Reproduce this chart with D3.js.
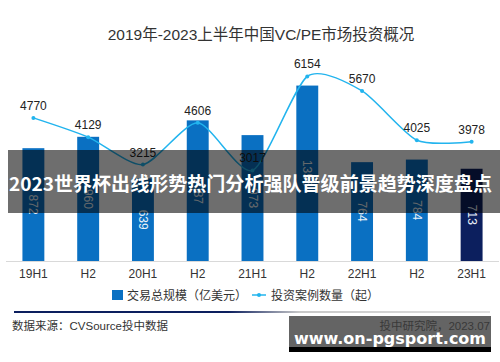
<!DOCTYPE html>
<html>
<head>
<meta charset="utf-8">
<script src="https://cdn.jsdelivr.net/npm/d3@7"></script>
<style>
  body { margin: 0; background: #fff; }
  svg { display: block; font-family: "Liberation Sans", "Noto Sans CJK SC", sans-serif; }
</style>
</head>
<body>
<div id="chart"></div>
<script>
// chart data
var categories = ["19H1", "H2", "20H1", "H2", "21H1", "H2", "22H1", "H2", "23H1"];
var dealValue = [872, 960, 639, 1087, 973, 1356, 764, 784, 713];      // 交易总规模（亿美元）
var dealCount = [4770, 4129, 3215, 4606, 3017, 6154, 5670, 4025, 3978]; // 投资案例数量（起）
var legendNames = ["交易总规模（亿美元）", "投资案例数量（起）"];

var width = 500, height = 362;
var svg = d3.select("#chart").append("svg")
    .attr("width", width)
    .attr("height", height);

var x = d3.scaleBand().domain(d3.range(categories.length)).range([6, 499]).paddingInner(0.6).paddingOuter(0.3);
var yBar = d3.scaleLinear().domain([0, 1600]).range([261, 54]);
var yLine = d3.scaleLinear().domain([0, 6900]).range([261, 54]);
var cx = function(i) { return x(i) + x.bandwidth() / 2; };

// title
svg.append("text")
    .attr("x", 261).attr("y", 40)
    .attr("text-anchor", "middle")
    .style("font-size", "15.5px")
    .style("fill", "#333")
    .text("2019年-2023上半年中国VC/PE市场投资概况");

// bars
svg.selectAll("rect.bar")
    .data(dealValue)
    .enter()
    .append("rect")
    .attr("class", "bar")
    .attr("x", function(d, i) { return x(i); })
    .attr("y", function(d) { return yBar(d); })
    .attr("width", x.bandwidth())
    .attr("height", function(d) { return yBar(0) - yBar(d); })
    .style("fill", function(d, i) { return i == dealValue.length - 1 ? "#0c1f5e" : "#0a70c2"; });

// bar labels, rotated
svg.selectAll("text.barlabel")
    .data(dealValue)
    .enter()
    .append("text")
    .attr("class", "barlabel")
    .attr("transform", function(d, i) {
        return "translate(" + (cx(i) - 4) + "," + ((yBar(d) + yBar(0)) / 2) + ") rotate(90)";
    })
    .attr("text-anchor", "middle")
    .style("font-size", "12px")
    .style("fill", "#e8f0f8")
    .text(function(d) { return d; });

// x axis
svg.append("line")
    .attr("x1", 6).attr("x2", 499)
    .attr("y1", 261.5).attr("y2", 261.5)
    .style("stroke", "#d9d9d9");

svg.selectAll("text.xlabel")
    .data(categories)
    .enter()
    .append("text")
    .attr("class", "xlabel")
    .attr("x", function(d, i) { return cx(i); })
    .attr("y", 278)
    .attr("text-anchor", "middle")
    .style("font-size", "12px")
    .style("fill", "#333")
    .text(function(d) { return d; });

// line
var line = d3.line()
    .x(function(d, i) { return cx(i); })
    .y(function(d) { return yLine(d); })
    .curve(d3.curveCardinal.tension(0.3));

svg.append("path")
    .datum(dealCount)
    .attr("d", line)
    .style("fill", "none")
    .style("stroke", "#22b4ee")
    .style("stroke-width", 1.5);

svg.selectAll("circle.pt")
    .data(dealCount)
    .enter()
    .append("circle")
    .attr("class", "pt")
    .attr("cx", function(d, i) { return cx(i); })
    .attr("cy", function(d) { return yLine(d); })
    .attr("r", 2)
    .style("fill", "#22b4ee");

svg.selectAll("text.ptlabel")
    .data(dealCount)
    .enter()
    .append("text")
    .attr("class", "ptlabel")
    .attr("x", function(d, i) { return cx(i); })
    .attr("y", function(d) { return yLine(d) - 8; })
    .attr("text-anchor", "middle")
    .style("font-size", "12px")
    .style("fill", "#222")
    .text(function(d) { return d; });

// legend
var lg = svg.append("g").attr("transform", "translate(0,295)");
lg.append("rect").attr("x", 112).attr("y", -5).attr("width", 11).attr("height", 10).style("fill", "#0a70c2");
lg.append("text").attr("x", 127).attr("y", 4.5).style("font-size", "12px").style("fill", "#333").text(legendNames[0]);
lg.append("line").attr("x1", 252).attr("x2", 266).attr("y1", 0).attr("y2", 0).style("stroke", "#22b4ee").style("stroke-width", 1.5);
lg.append("circle").attr("cx", 259).attr("cy", 0).attr("r", 2).style("fill", "#22b4ee");
lg.append("text").attr("x", 271).attr("y", 4.5).style("font-size", "12px").style("fill", "#333").text(legendNames[1]);

// footer rule
var grad = svg.append("defs").append("linearGradient").attr("id", "rule");
grad.append("stop").attr("offset", "0%").attr("stop-color", "#0c1f5e");
grad.append("stop").attr("offset", "45%").attr("stop-color", "#0c1f5e");
grad.append("stop").attr("offset", "60%").attr("stop-color", "#c8c8c8");
grad.append("stop").attr("offset", "100%").attr("stop-color", "#e0e0e0");
svg.append("rect").attr("x", 14).attr("y", 311).attr("width", 476).attr("height", 2).style("fill", "url(#rule)");

svg.append("text").attr("x", 12).attr("y", 330).style("font-size", "11.5px").style("fill", "#333").text("数据来源：CVSource投中数据");
svg.append("text").attr("x", 490).attr("y", 330).attr("text-anchor", "end").style("font-size", "11.5px").style("fill", "#666").text("投中研究院，2023.07");

// overlay banner
svg.append("rect").attr("x", 8).attr("y", 150).attr("width", 492).attr("height", 63).style("fill", "rgba(0,0,0,0.57)");
svg.append("text")
    .attr("x", 9).attr("y", 191)
    .attr("textLength", 483)
    .attr("lengthAdjust", "spacingAndGlyphs")
    .style("font-family", "'Noto Sans CJK SC', sans-serif")
    .style("font-weight", "bold")
    .style("font-size", "19px")
    .style("fill", "#fff")
    .text("2023世界杯出线形势热门分析强队晋级前景趋势深度盘点");

// watermark
svg.append("rect").attr("x", 289).attr("y", 316).attr("width", 202).attr("height", 31).style("fill", "rgba(40,40,40,0.72)");
svg.append("rect").attr("x", 289).attr("y", 347).attr("width", 202).attr("height", 5).style("fill", "#000");
svg.append("text")
    .attr("x", 390).attr("y", 344)
    .attr("text-anchor", "middle")
    .style("font-family", "'DejaVu Sans', sans-serif")
    .style("font-weight", "bold")
    .style("font-size", "16px")
    .style("fill", "#fff")
    .text("www.on-pgsport.com");
</script>
</body>
</html>
